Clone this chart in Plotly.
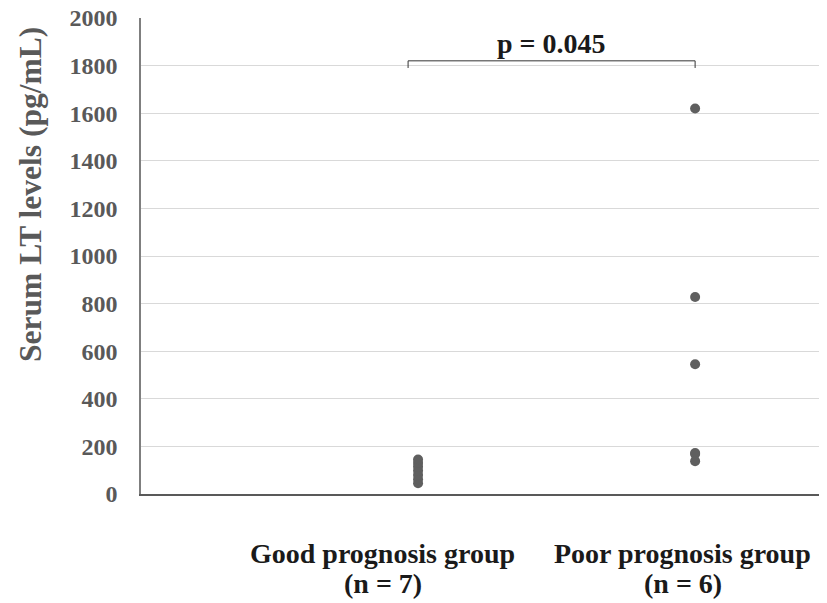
import plotly.graph_objects as go

groups = ["Good prognosis group", "Poor prognosis group"]
group_counts = ["(n = 7)", "(n = 6)"]
good_values = [45, 62, 80, 98, 115, 130, 145]
poor_values = [1620, 828, 545, 172, 168, 138]
y_ticks = [0, 200, 400, 600, 800, 1000, 1200, 1400, 1600, 1800, 2000]
p_text = "p = 0.045"
bracket_y = 1820

font_family = "Liberation Serif, Times New Roman, serif"
pt_color = "#5f5f5f"

fig = go.Figure()
fig.add_trace(go.Scatter(x=[0] * len(good_values), y=good_values, mode="markers",
                         marker=dict(size=10, color=pt_color), showlegend=False))
fig.add_trace(go.Scatter(x=[1] * len(poor_values), y=poor_values, mode="markers",
                         marker=dict(size=10, color=pt_color), showlegend=False))

# bracket
fig.add_trace(go.Scatter(x=[-0.036, -0.036, 1.0, 1.0], y=[bracket_y - 30, bracket_y, bracket_y, bracket_y - 30],
                         mode="lines", line=dict(color="#333333", width=1), showlegend=False,
                         hoverinfo="skip"))
fig.add_annotation(x=0.48, y=bracket_y, yshift=17, text="<b>" + p_text + "</b>", showarrow=False,
                   yanchor="middle", font=dict(family=font_family, size=28, color="#1a1a1a"))

# category labels
for xc, lab, cnt in zip([-0.127, 0.956], groups, group_counts):
    fig.add_annotation(x=xc, y=0, yref="y", yshift=-59, text="<b>" + lab + "</b>", showarrow=False,
                       yanchor="middle", font=dict(family=font_family, size=28, color="#1a1a1a"))
    fig.add_annotation(x=xc, y=0, yref="y", yshift=-89, text="<b>" + cnt + "</b>", showarrow=False,
                       yanchor="middle", font=dict(family=font_family, size=28, color="#1a1a1a"))

fig.add_annotation(xref="paper", yref="paper", x=-0.162, y=0.63, text="<b>Serum LT levels (pg/mL)</b>",
                   textangle=-90, showarrow=False, xanchor="center", yanchor="middle",
                   font=dict(family=font_family, size=31.5, color="#595959"))

fig.update_layout(
    width=819, height=595,
    margin=dict(l=133, r=0, t=10, b=109),
    plot_bgcolor="white", paper_bgcolor="white",
    xaxis=dict(range=[-1.0, 1.476], showticklabels=False, showgrid=False, zeroline=False,
               showline=True, linecolor="#595959", linewidth=2, ticks="", automargin=False),
    yaxis=dict(range=[0, 2000], tickvals=y_ticks, ticktext=["<b>%d</b>" % v for v in y_ticks],
               showgrid=True, gridcolor="#d9d9d9", gridwidth=1,
               zeroline=False, showline=True, linecolor="#7f7f7f", linewidth=1.5, ticks="",
               ticklabelstandoff=17, automargin=False, ticklabeloverflow="allow",
               tickfont=dict(family=font_family, size=24, color="#595959")),
    font=dict(family=font_family),
)

fig.write_html("out.html")
